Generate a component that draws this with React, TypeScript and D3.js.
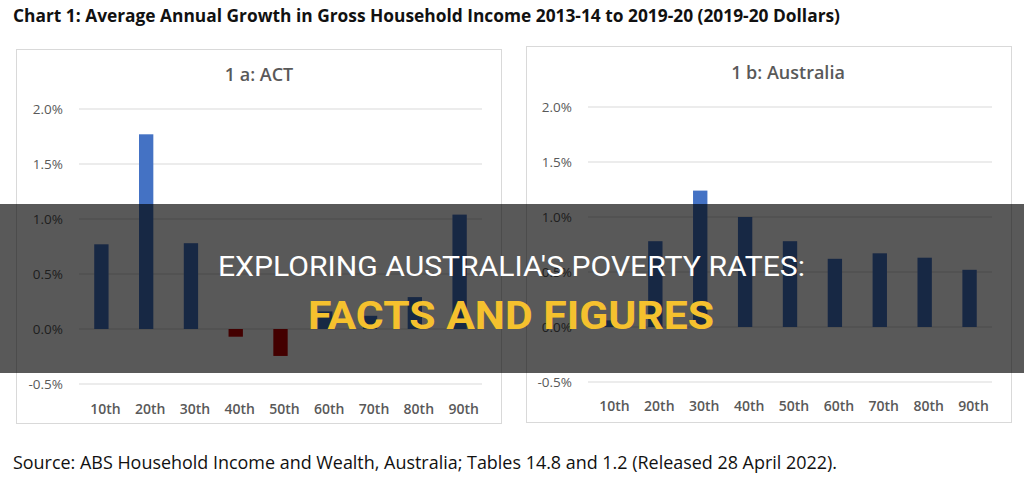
import { scaleBand, scaleLinear } from 'd3'

const deciles = ['10th', '20th', '30th', '40th', '50th', '60th', '70th', '80th', '90th']
const actGrowth = [0.77, 1.77, 0.78, -0.07, -0.245, 0.16, 0.12, 0.29, 1.04]
const australiaGrowth = [0.06, 0.78, 1.24, 1.0, 0.78, 0.62, 0.67, 0.63, 0.52]
const yTickValues = [-0.5, 0, 0.5, 1.0, 1.5, 2.0]

const chartTitle =
  'Chart 1: Average Annual Growth in Gross Household Income 2013-14 to 2019-20 (2019-20 Dollars)'
const sourceNote =
  'Source: ABS Household Income and Wealth, Australia; Tables 14.8 and 1.2 (Released 28 April 2022).'

const width = 1024
const height = 479

const positiveColor = '#4472c4'
const negativeColor = '#c00000'
const labelColor = '#595959'
const gridColor = '#d9d9d9'

type PanelLayout = {
  box: { x: number; y: number; w: number; h: number }
  plot: { left: number; right: number; top: number; bottom: number }
  titleX: number
  titleY: number
  labelY: number
}

type PanelProps = {
  title: string
  values: number[]
  layout: PanelLayout
}

const actLayout: PanelLayout = {
  box: { x: 16.5, y: 49.5, w: 485, h: 374 },
  plot: { left: 79, right: 482, top: 109, bottom: 384 },
  titleX: 259,
  titleY: 81,
  labelY: 409,
}

const australiaLayout: PanelLayout = {
  box: { x: 526.5, y: 46.5, w: 485, h: 376 },
  plot: { left: 588, right: 992, top: 107, bottom: 382 },
  titleX: 788,
  titleY: 79,
  labelY: 406,
}

function Panel({ title, values, layout }: PanelProps) {
  const { box, plot } = layout

  const xScale = scaleBand<string>()
    .domain(deciles)
    .range([plot.left, plot.right])
    .paddingInner(0.68)
    .paddingOuter(0.34)

  const yScale = scaleLinear().domain([-0.5, 2.0]).range([plot.bottom, plot.top])

  return (
    <g>
      <rect x={box.x} y={box.y} width={box.w} height={box.h} fill="#fff" stroke={gridColor} />
      <text
        x={layout.titleX}
        y={layout.titleY}
        textAnchor="middle"
        fontSize={18}
        fontWeight={600}
        fill={labelColor}
      >
        {title}
      </text>

      {yTickValues.map((tick) => (
        <line
          key={`grid-${tick}`}
          x1={plot.left}
          x2={plot.right}
          y1={yScale(tick)}
          y2={yScale(tick)}
          stroke={gridColor}
          strokeWidth={1.2}
        />
      ))}

      {yTickValues.map((tick) => (
        <text
          key={`tick-${tick}`}
          x={plot.left - 16}
          y={yScale(tick)}
          dy="0.35em"
          textAnchor="end"
          fontSize={13.5}
          fill={labelColor}
        >
          {`${tick.toFixed(1)}%`}
        </text>
      ))}

      {values.map((value, i) => {
        const y0 = yScale(0)
        const y1 = yScale(value)
        return (
          <rect
            key={deciles[i]}
            x={xScale(deciles[i]) ?? 0}
            y={Math.min(y0, y1)}
            width={xScale.bandwidth()}
            height={Math.abs(y1 - y0)}
            fill={value < 0 ? negativeColor : positiveColor}
          />
        )
      })}

      {deciles.map((label) => (
        <text
          key={`label-${label}`}
          x={(xScale(label) ?? 0) + xScale.bandwidth() / 2 + 4}
          y={layout.labelY}
          dy="0.35em"
          textAnchor="middle"
          fontSize={14}
          fontWeight={600}
          fill={labelColor}
        >
          {label}
        </text>
      ))}
    </g>
  )
}

export default function App() {
  return (
    <svg
      width={width}
      height={height}
      viewBox={`0 0 ${width} ${height}`}
      style={{ position: 'absolute', left: 0, top: 0, background: '#fff' }}
      fontFamily="'Open Sans', 'Noto Sans', sans-serif"
    >
      <rect width={width} height={height} fill="#fff" />
      <text
        x={13}
        y={22}
        fontSize={18}
        fontWeight={700}
        fill="#111"
        textLength={827}
        lengthAdjust="spacingAndGlyphs"
      >
        {chartTitle}
      </text>

      <Panel title="1 a: ACT" values={actGrowth} layout={actLayout} />
      <Panel title="1 b: Australia" values={australiaGrowth} layout={australiaLayout} />

      <text
        x={13}
        y={469}
        fontSize={18}
        fill="#111"
        textLength={824}
        lengthAdjust="spacingAndGlyphs"
      >
        {sourceNote}
      </text>

      <rect x={0} y={204} width={width} height={169} fill="#000" fillOpacity={0.65} />
      <text
        x={218}
        y={276}
        fontSize={27}
        fill="#fff"
        fontFamily="Roboto, sans-serif"
        textLength={587}
        lengthAdjust="spacingAndGlyphs"
      >
        EXPLORING AUSTRALIA'S POVERTY RATES:
      </text>
      <text
        x={308}
        y={329}
        fontSize={38}
        fontWeight={700}
        fill="#f5c12e"
        fontFamily="Roboto, sans-serif"
        textLength={406}
        lengthAdjust="spacingAndGlyphs"
      >
        FACTS AND FIGURES
      </text>
    </svg>
  )
}
